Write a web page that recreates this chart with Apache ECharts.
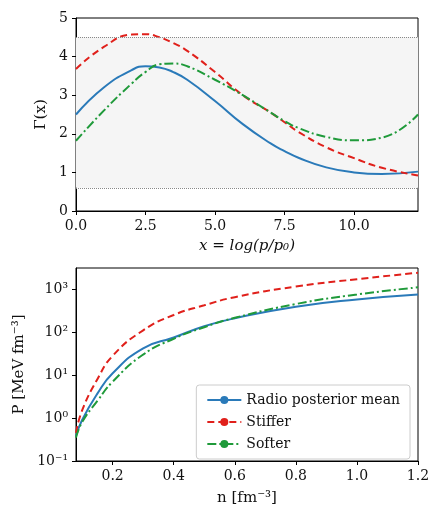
<!DOCTYPE html>
<html><head><meta charset="utf-8">
<script src="https://cdn.jsdelivr.net/npm/echarts@6/dist/echarts.min.js"></script>
<style>html,body{margin:0;background:#fff}#c{width:440px;height:520px}</style>
</head><body><div id="c"></div>
<script>
var gx = [0, 1, 2, 2.5, 3, 3.5, 4, 5, 6, 7, 7.5, 8, 9, 10, 11, 12.3];
var gBlue = [2.5, 3.2, 3.65, 3.75, 3.72, 3.6, 3.4, 2.85, 2.25, 1.75, 1.55, 1.38, 1.13, 1.0, 0.96, 1.02];
var gRed = [3.68, 4.25, 4.57, 4.58, 4.5, 4.35, 4.15, 3.6, 3.0, 2.55, 2.3, 2.05, 1.65, 1.37, 1.12, 0.92];
var gGreen = [1.82, 2.6, 3.3, 3.6, 3.8, 3.82, 3.75, 3.4, 3.0, 2.55, 2.33, 2.15, 1.92, 1.83, 1.9, 2.5];
var nx = [0.08, 0.1, 0.15, 0.2, 0.3, 0.4, 0.5, 0.6, 0.8, 1.0, 1.2];
var pBlue = [0.38, 0.9, 3.7, 11, 42, 75, 137, 210, 390, 575, 750];
var pRed = [0.45, 1.5, 8, 28, 110, 250, 420, 650, 1150, 1700, 2400];
var pGreen = [0.35, 0.8, 2.5, 7, 30, 70, 130, 215, 450, 750, 1100];
var nTicks = [0.2, 0.4, 0.6, 0.8, 1.0, 1.2];
var bandLo = 0.6, bandHi = 4.5;

var F = 'DejaVu Serif';
var blue = '#2a7ab9', red = '#e0201b', green = '#1f9a3a';
function pairs(xs, ys) { return xs.map(function (x, i) { return [x, ys[i]]; }); }
var sup = {'-': '\u207b', '0': '\u2070', '1': '\u00b9', '2': '\u00b2', '3': '\u00b3'};
function logLab(v) {
  var e = Math.round(Math.log10(v));
  return '10' + String(e).split('').map(function (c) { return sup[c]; }).join('');
}
var axisBase = {
  axisLine: {show: true, onZero: false, lineStyle: {color: '#000'}},
  axisTick: {show: true, inside: false, length: 4, lineStyle: {color: '#000'}},
  axisLabel: {color: '#111', fontFamily: F, fontSize: 14},
  splitLine: {show: false},
  nameTextStyle: {color: '#111', fontFamily: F, fontSize: 15}
};
function ax(o) { return Object.assign({}, JSON.parse(JSON.stringify(axisBase)), o); }

var chart = echarts.init(document.getElementById('c'));
chart.setOption({
  animation: false,
  textStyle: {fontFamily: F},
  grid: [
    {left: 76, top: 18, width: 342, height: 193, show: true, borderColor: '#000', borderWidth: 1},
    {left: 76, top: 268, width: 342, height: 193, show: true, borderColor: '#000', borderWidth: 1}
  ],
  xAxis: [
    ax({gridIndex: 0, type: 'value', min: 0, max: 12.3, interval: 2.5,
      name: 'x = log(p/p\u2080)', nameLocation: 'middle', nameGap: 28,
      nameTextStyle: {color: '#111', fontFamily: F, fontSize: 15, fontStyle: 'italic'},
      axisLabel: {color: '#111', fontFamily: F, fontSize: 14, showMaxLabel: false,
        formatter: function (v) { return v.toFixed(1); }}}),
    ax({gridIndex: 1, type: 'value', min: 0.08, max: 1.2,
      name: 'n [fm\u207b\u00b3]', nameLocation: 'middle', nameGap: 30,
      axisTick: {show: true, length: 4, lineStyle: {color: '#000'}, customValues: nTicks},
      axisLabel: {color: '#111', fontFamily: F, fontSize: 14, customValues: nTicks,
        formatter: function (v) { return v.toFixed(1); }}})
  ],
  yAxis: [
    ax({gridIndex: 0, type: 'value', min: 0, max: 5, interval: 1,
      name: '\u0393(x)', nameLocation: 'middle', nameGap: 22, nameRotate: 90}),
    ax({gridIndex: 1, type: 'log', logBase: 10, min: 0.1, max: 3100,
      name: 'P [MeV fm\u207b\u00b3]', nameLocation: 'middle', nameGap: 40, nameRotate: 90,
      axisLabel: {color: '#111', fontFamily: F, fontSize: 14, showMaxLabel: false, formatter: logLab}})
  ],
  legend: {
    right: 30, top: 385, orient: 'vertical', itemWidth: 34, itemHeight: 10, itemGap: 8,
    backgroundColor: '#fff', borderColor: '#ccc', borderWidth: 1, borderRadius: 3, padding: [8, 10],
    textStyle: {fontFamily: F, fontSize: 14, color: '#111'},
    data: ['Radio posterior mean', 'Stiffer', 'Softer']
  },
  series: [
    {type: 'line', xAxisIndex: 0, yAxisIndex: 0, data: pairs(gx, gBlue), smooth: true, symbol: 'none',
      lineStyle: {color: blue, width: 2}, itemStyle: {color: blue},
      markArea: {silent: true, itemStyle: {color: '#f5f5f5'}, data: [[{yAxis: bandLo}, {yAxis: bandHi}]]},
      markLine: {silent: true, symbol: 'none', label: {show: false},
        lineStyle: {color: '#888', type: 'dotted', width: 1}, data: [{yAxis: bandLo}, {yAxis: bandHi}]}},
    {type: 'line', xAxisIndex: 0, yAxisIndex: 0, data: pairs(gx, gRed), smooth: true, symbol: 'none',
      lineStyle: {color: red, width: 2, type: [7, 4]}, itemStyle: {color: red}},
    {type: 'line', xAxisIndex: 0, yAxisIndex: 0, data: pairs(gx, gGreen), smooth: true, symbol: 'none',
      lineStyle: {color: green, width: 2, type: [9, 3, 2, 3]}, itemStyle: {color: green}},
    {name: 'Radio posterior mean', type: 'line', xAxisIndex: 1, yAxisIndex: 1, data: pairs(nx, pBlue),
      smooth: true, symbol: 'none', lineStyle: {color: blue, width: 2}, itemStyle: {color: blue}},
    {name: 'Stiffer', type: 'line', xAxisIndex: 1, yAxisIndex: 1, data: pairs(nx, pRed),
      smooth: true, symbol: 'none', lineStyle: {color: red, width: 2, type: [7, 4]}, itemStyle: {color: red}},
    {name: 'Softer', type: 'line', xAxisIndex: 1, yAxisIndex: 1, data: pairs(nx, pGreen),
      smooth: true, symbol: 'none', lineStyle: {color: green, width: 2, type: [9, 3, 2, 3]}, itemStyle: {color: green}}
  ]
});
</script></body></html>
